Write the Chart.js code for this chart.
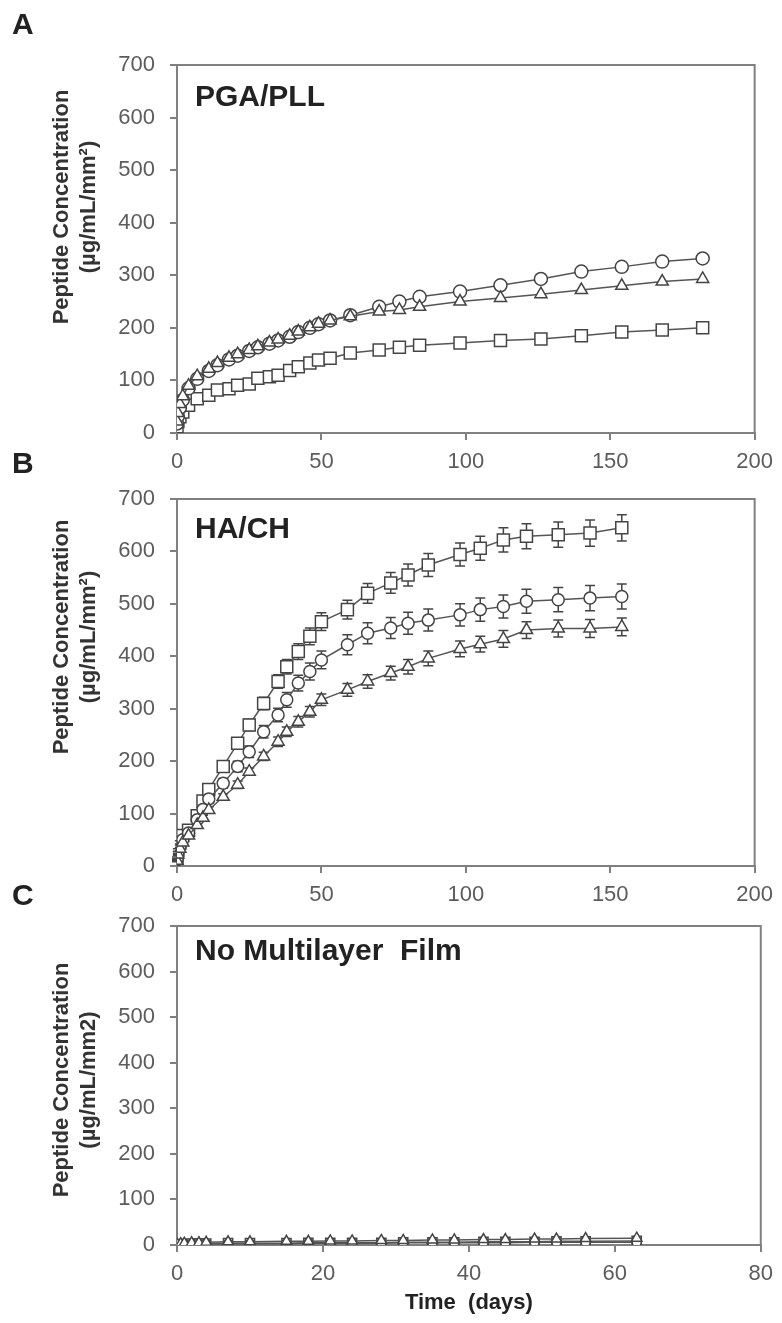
<!DOCTYPE html>
<html>
<head>
<meta charset="utf-8">
<script src="https://cdn.jsdelivr.net/npm/chart.js@4.4.1/dist/chart.umd.min.js"></script>
<style>
  html, body { margin: 0; padding: 0; background: #fff; }
  body { width: 782px; height: 1323px; position: relative; overflow: hidden; }
  canvas { position: absolute; left: 0; }
</style>
</head>
<body>
<canvas id="panelA" width="782" height="480" style="top:0px"></canvas>
<canvas id="panelB" width="782" height="471" style="top:440px"></canvas>
<canvas id="panelC" width="782" height="453" style="top:870px"></canvas>
<script>
// Panel A - PGA/PLL
const daysA = [0, 0.3, 1, 2, 4, 7, 11, 14, 18, 21, 25, 28, 32, 35, 39, 42, 46, 49, 53, 60, 70, 77, 84, 98, 112, 126, 140, 154, 168, 182];
const squaresA = [12, 22, 31, 40, 53, 65, 72, 82, 84, 91, 93, 104, 107, 110, 119, 126, 133, 139, 142, 152, 158, 163, 167, 171, 176, 179, 185, 192, 196, 200];
const circlesA = [18, 32, 48, 63, 85, 103, 118, 129, 140, 147, 156, 163, 170, 176, 183, 192, 200, 207, 214, 224, 240, 250, 259, 269, 281, 293, 307, 316, 326, 332];
const trianglesA = [22, 38, 55, 70, 90, 108, 122, 133, 143, 150, 158, 165, 172, 178, 185, 193, 201, 208, 214, 222, 231, 234, 240, 250, 257, 264, 272, 280, 288, 293];

// Panel B - HA/CH
const daysB = [0, 0.3, 1, 2, 4, 7, 9, 11, 16, 21, 25, 30, 35, 38, 42, 46, 50, 59, 66, 74, 80, 87, 98, 105, 113, 121, 132, 143, 154];
const squaresB = [15, 30, 44, 58, 68, 96, 124, 146, 190, 234, 269, 310, 352, 380, 409, 438, 466, 489, 520, 540, 555, 574, 594, 606, 622, 629, 632, 635, 645];
const squaresErrB = [2, 3, 4, 5, 6, 7, 8, 8, 9, 10, 11, 12, 13, 14, 15, 16, 17, 18, 19, 20, 21, 22, 22, 23, 23, 24, 24, 25, 25];
const circlesB = [12, 25, 38, 50, 63, 88, 108, 128, 158, 190, 218, 256, 288, 317, 349, 371, 393, 422, 444, 454, 463, 469, 479, 489, 495, 505, 508, 511, 514];
const circlesErrB = [2, 3, 4, 5, 6, 7, 8, 8, 9, 10, 11, 12, 13, 14, 15, 16, 17, 19, 20, 20, 21, 21, 21, 22, 22, 23, 23, 24, 24];
const trianglesB = [10, 22, 33, 45, 58, 78, 92, 107, 132, 155, 180, 209, 237, 256, 275, 294, 317, 336, 352, 368, 380, 396, 414, 423, 433, 450, 453, 453, 456];
const trianglesErrB = [2, 2, 3, 3, 4, 5, 5, 6, 6, 7, 7, 8, 9, 9, 10, 10, 11, 12, 13, 13, 14, 14, 15, 15, 16, 16, 16, 17, 17];

// Panel C - No multilayer film
const daysC = [0, 0.5, 1, 2, 3, 4, 7, 10, 15, 18, 21, 24, 28, 31, 35, 38, 42, 45, 49, 52, 56, 63];
const squaresC = [1, 2, 2, 3, 3, 3, 4, 4, 4, 5, 5, 5, 5, 6, 6, 6, 7, 7, 7, 8, 8, 9];
const circlesC = [1, 1, 2, 2, 2, 3, 3, 3, 3, 4, 4, 4, 4, 5, 5, 5, 5, 5, 6, 6, 6, 6];
const trianglesC = [2, 3, 4, 5, 5, 6, 7, 7, 8, 8, 9, 9, 10, 10, 11, 11, 12, 12, 13, 13, 14, 15];

const FONT = '"Liberation Sans", Arial, sans-serif';
const AXIS = '#808080';
const TICK = '#5c5c5c';
const LINE = '#555';
const MARK = '#444';

Chart.defaults.font.family = FONT;

function series(days, vals, style, r, errs) {
  return {
    data: days.map((d, i) => ({ x: d, y: vals[i] })),
    errorBars: errs || null,
    showLine: true,
    fill: false,
    tension: 0,
    borderColor: LINE,
    borderWidth: 1.5,
    pointStyle: style,
    pointRadius: r,
    pointBackgroundColor: '#fff',
    pointBorderColor: MARK,
    pointBorderWidth: 1.5
  };
}

const decor = {
  id: 'decor',
  beforeDatasetsDraw(chart) {
    const ctx = chart.ctx;
    const y = chart.scales.y;
    ctx.save();
    ctx.strokeStyle = MARK;
    ctx.lineWidth = 1.5;
    chart.data.datasets.forEach((ds, i) => {
      if (!ds.errorBars) return;
      const meta = chart.getDatasetMeta(i);
      meta.data.forEach((pt, j) => {
        const e = ds.errorBars[j];
        const v = ds.data[j].y;
        const top = y.getPixelForValue(v + e);
        const bot = y.getPixelForValue(v - e);
        ctx.beginPath();
        ctx.moveTo(pt.x, top); ctx.lineTo(pt.x, bot);
        ctx.moveTo(pt.x - 5, top); ctx.lineTo(pt.x + 5, top);
        ctx.moveTo(pt.x - 5, bot); ctx.lineTo(pt.x + 5, bot);
        ctx.stroke();
      });
    });
    ctx.restore();
  },
  afterDraw(chart, args, o) {
    const ctx = chart.ctx;
    const a = chart.chartArea;
    ctx.save();
    // top and right frame
    ctx.strokeStyle = AXIS;
    ctx.lineWidth = 2;
    ctx.beginPath();
    ctx.moveTo(a.left, a.top);
    ctx.lineTo(a.right, a.top);
    ctx.lineTo(a.right, a.bottom);
    ctx.stroke();
    // panel letter
    ctx.fillStyle = '#222';
    ctx.textBaseline = 'middle';
    ctx.textAlign = 'left';
    ctx.font = 'bold 30px ' + FONT;
    ctx.fillText(o.letter, 12, o.letterY);
    // inner label
    ctx.font = 'bold 30px ' + FONT;
    ctx.fillText(o.label, a.left + 18, a.top + o.labelDy);
    // y title, two lines
    ctx.fillStyle = '#333';
    ctx.translate(62, o.titleY);
    ctx.rotate(-Math.PI / 2);
    ctx.textAlign = 'center';
    ctx.font = 'bold 22px ' + FONT;
    ctx.fillText('Peptide Concentration', 0, 0);
    ctx.fillText(o.unit, 0, 27);
    ctx.restore();
  }
};

function makePanel(id, datasets, o) {
  new Chart(document.getElementById(id), {
    type: 'line',
    data: { datasets: datasets },
    options: {
      responsive: false,
      animation: false,
      devicePixelRatio: 1,
      layout: { padding: { top: o.padTop, right: o.padRight, left: 0, bottom: 0 } },
      plugins: {
        legend: { display: false },
        tooltip: { enabled: false },
        decor: o
      },
      scales: {
        x: {
          type: 'linear',
          min: 0,
          max: o.xMax,
          ticks: { stepSize: o.xStep, color: TICK, font: { size: 22 }, padding: 9, maxRotation: 0 },
          grid: { drawOnChartArea: false, tickLength: 7, color: AXIS, lineWidth: 2 },
          border: { color: AXIS, width: 2 },
          title: {
            display: !!o.xTitle,
            text: o.xTitle || '',
            color: '#222',
            font: { size: 22, weight: 'bold' },
            padding: { top: 0, bottom: 7 }
          },
          afterFit: function (s) { s.height = o.xHeight; }
        },
        y: {
          min: 0,
          max: 700,
          ticks: { stepSize: 100, color: TICK, font: { size: 22 }, padding: 15 },
          grid: { drawOnChartArea: false, tickLength: 7, color: AXIS, lineWidth: 2 },
          border: { color: AXIS, width: 2 },
          afterFit: function (s) { s.width = 177; }
        }
      }
    },
    plugins: [decor]
  });
}

makePanel('panelA', [
  series(daysA, trianglesA, 'triangle', 7),
  series(daysA, circlesA, 'circle', 6.5),
  series(daysA, squaresA, 'rect', 8.5)
], { padTop: 65, padRight: 24, xMax: 200, xStep: 50, xHeight: 47,
     letter: 'A', letterY: 26, label: 'PGA/PLL', labelDy: 33, titleY: 207, unit: '(µg/mL/mm²)' });

makePanel('panelB', [
  series(daysB, trianglesB, 'triangle', 7, trianglesErrB),
  series(daysB, circlesB, 'circle', 6, circlesErrB),
  series(daysB, squaresB, 'rect', 8.5, squaresErrB)
], { padTop: 59, padRight: 24, xMax: 200, xStep: 50, xHeight: 45,
     letter: 'B', letterY: 25, label: 'HA/CH', labelDy: 31, titleY: 197, unit: '(µg/mL/mm²)' });

makePanel('panelC', [
  series(daysC, trianglesC, 'triangle', 6),
  series(daysC, circlesC, 'circle', 4.5),
  series(daysC, squaresC, 'rect', 6.5)
], { padTop: 56, padRight: 17, xMax: 80, xStep: 20, xHeight: 78, xTitle: 'Time  (days)',
     letter: 'C', letterY: 27, label: 'No Multilayer  Film', labelDy: 26, titleY: 210, unit: '(µg/mL/mm2)' });
</script>
</body>
</html>
